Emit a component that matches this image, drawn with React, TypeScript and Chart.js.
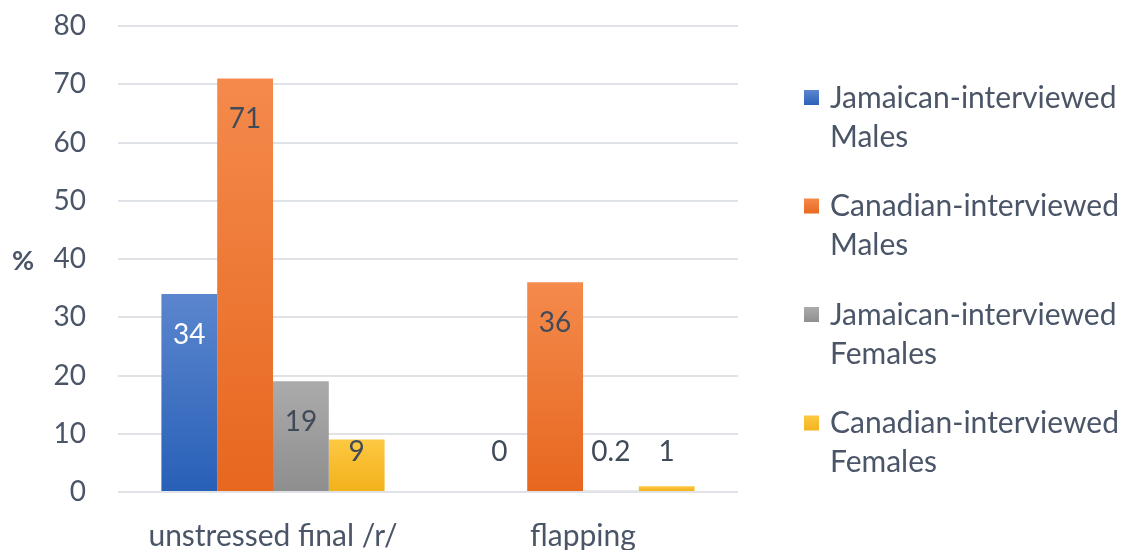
import { useEffect, useRef } from 'react';
import { Chart, registerables } from 'chart.js';

Chart.register(...registerables);

const categories = ['unstressed final /r/', 'flapping'];
const seriesLabels = [
  ['Jamaican-interviewed', 'Males'],
  ['Canadian-interviewed', 'Males'],
  ['Jamaican-interviewed', 'Females'],
  ['Canadian-interviewed', 'Females'],
];
const jamaicanMales = [34, 0];
const canadianMales = [71, 36];
const jamaicanFemales = [19, 0.2];
const canadianFemales = [9, 1];
const valueLabels = [
  ['34', '0'],
  ['71', '36'],
  ['19', '0.2'],
  ['9', '1'],
];
const yMin = 0;
const yMax = 80;
const yStep = 10;
const yTitle = '%';

const TEXT = '#4a5568';
const FONT = 'Lato, "Open Sans", sans-serif';
const gradients: [string, string][] = [
  ['#5b86ce', '#2860b7'],
  ['#f48a4c', '#e7671f'],
  ['#ababab', '#8e8e8e'],
  ['#fdc842', '#f2b21b'],
];
const insideColors = ['#ffffff', '#404a58', '#404a58', '#404a58'];

const gradientBars = {
  id: 'gradientBars',
  beforeDatasetsDraw(chart: any) {
    const ctx = chart.ctx;
    chart.data.datasets.forEach((_: any, i: number) => {
      const meta = chart.getDatasetMeta(i);
      meta.data.forEach((el: any) => {
        const top = Math.min(el.y, el.base);
        const bottom = Math.max(el.y, el.base);
        const g = ctx.createLinearGradient(0, top, 0, bottom + 0.01);
        g.addColorStop(0, gradients[i][0]);
        g.addColorStop(1, gradients[i][1]);
        el.options = { ...el.options, backgroundColor: g };
      });
    });
  },
};

const decorations = {
  id: 'decorations',
  afterDatasetsDraw(chart: any) {
    const ctx = chart.ctx;
    const area = chart.chartArea;
    const yScale = chart.scales.y;
    const zeroY = yScale.getPixelForValue(0);
    ctx.save();
    ctx.font = `28px ${FONT}`;
    ctx.textAlign = 'center';
    ctx.textBaseline = 'middle';
    chart.data.datasets.forEach((_: any, i: number) => {
      const meta = chart.getDatasetMeta(i);
      meta.data.forEach((el: any, j: number) => {
        const inside = el.y + 41;
        const outside = zeroY - 40;
        const y = Math.min(inside, outside);
        ctx.fillStyle = inside <= outside ? insideColors[i] : '#404a58';
        ctx.fillText(valueLabels[i][j], el.x, y);
      });
    });

    // y-axis title
    ctx.font = `bold 27px ${FONT}`;
    ctx.fillStyle = TEXT;
    ctx.textAlign = 'center';
    ctx.fillText(yTitle, 23, yScale.getPixelForValue(40) + 2);

    // legend
    const lx = area.right + 66;
    const tx = lx + 26;
    let y = 98;
    ctx.font = `30px ${FONT}`;
    ctx.textAlign = 'left';
    seriesLabels.forEach((lines, i) => {
      const g = ctx.createLinearGradient(0, y - 8, 0, y + 8);
      g.addColorStop(0, gradients[i][0]);
      g.addColorStop(1, gradients[i][1]);
      ctx.fillStyle = g;
      ctx.fillRect(lx, y - 8, 15, 15);
      ctx.fillStyle = TEXT;
      lines.forEach((line, k) => {
        ctx.fillText(line, tx, y + k * 39);
      });
      y += 108.5;
    });
    ctx.restore();
  },
};

export default function App() {
  const ref = useRef<HTMLCanvasElement | null>(null);
  useEffect(() => {
    document.body.style.margin = '0';
    const canvas = ref.current;
    if (!canvas) return;
    const chart = new Chart(canvas, {
      type: 'bar',
      data: {
        labels: categories,
        datasets: [
          { label: seriesLabels[0].join(' '), data: jamaicanMales },
          { label: seriesLabels[1].join(' '), data: canadianMales },
          { label: seriesLabels[2].join(' '), data: jamaicanFemales },
          { label: seriesLabels[3].join(' '), data: canadianFemales },
        ],
      },
      options: {
        animation: false,
        responsive: false,
        maintainAspectRatio: false,
        events: [],
        datasets: {
          bar: {
            categoryPercentage: 0.72,
            barPercentage: 1,
            borderWidth: 0,
          },
        },
        layout: { padding: { left: 0, right: 391, top: 26, bottom: 0 } },
        plugins: {
          legend: { display: false },
          tooltip: { enabled: false },
        },
        scales: {
          x: {
            grid: { display: false, drawTicks: false },
            border: { display: false },
            ticks: {
              color: TEXT,
              font: { family: FONT, size: 30 },
              padding: 26,
              maxRotation: 0,
            },
            afterFit: (s: any) => {
              s.height = 58;
              s.paddingLeft = 0;
              s.paddingRight = 0;
            },
          },
          y: {
            min: yMin,
            max: yMax,
            ticks: {
              stepSize: yStep,
              color: TEXT,
              font: { family: FONT, size: 28 },
              padding: 32,
            },
            grid: { color: '#dfe2e7', lineWidth: 2, drawTicks: false },
            border: { display: false },
            afterFit: (s: any) => {
              s.width = 118;
              s.paddingTop = 0;
              s.paddingBottom = 0;
            },
          },
        },
      },
      plugins: [gradientBars, decorations],
    });
    return () => chart.destroy();
  }, []);
  return (
    <div style={{ position: 'fixed', left: 0, top: 0, width: 1129, height: 550, background: '#fff' }}>
      <canvas ref={ref} width={1129} height={550} style={{ width: 1129, height: 550, display: 'block' }} />
    </div>
  );
}
